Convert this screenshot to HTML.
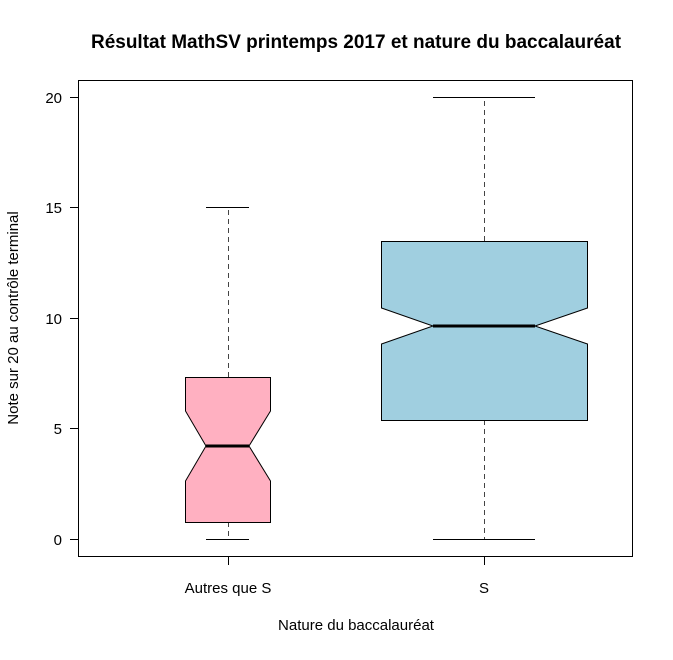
<!DOCTYPE html><html><head><style>body{margin:0;background:#fff}</style></head><body>
<svg width="673" height="655" xmlns="http://www.w3.org/2000/svg" font-family="Liberation Sans, Arial, sans-serif">
<rect width="673" height="655" fill="#fff"/>
<text x="356" y="48" font-size="19" font-weight="bold" text-anchor="middle">Résultat MathSV printemps 2017 et nature du baccalauréat</text>
<rect x="78.5" y="80.5" width="554" height="476" fill="none" stroke="#000"/>
<g stroke="#000" fill="none">
<line x1="70" y1="539.5" x2="78" y2="539.5"/><line x1="70" y1="428.5" x2="78" y2="428.5"/><line x1="70" y1="318.5" x2="78" y2="318.5"/><line x1="70" y1="207.5" x2="78" y2="207.5"/><line x1="70" y1="97.5" x2="78" y2="97.5"/>
<line x1="228.5" y1="557" x2="228.5" y2="565"/><line x1="484.5" y1="557" x2="484.5" y2="565"/>
</g>
<g font-size="15" text-anchor="end">
<text x="62" y="545">0</text><text x="62" y="434">5</text><text x="62" y="324">10</text><text x="62" y="213">15</text><text x="62" y="103">20</text>
</g>
<g font-size="15" text-anchor="middle">
<text x="228" y="593">Autres que S</text><text x="484" y="593">S</text>
<text x="356" y="630">Nature du baccalauréat</text>
<text transform="translate(18,318) rotate(-90)">Note sur 20 au contrôle terminal</text>
</g>
<g stroke="#000" fill="none">
<line x1="228.5" y1="377" x2="228.5" y2="207.5" stroke-dasharray="5,4" stroke="#444"/>
<line x1="228.5" y1="522" x2="228.5" y2="539.5" stroke-dasharray="5,4" stroke="#444"/>
<line x1="206" y1="207.5" x2="249" y2="207.5"/><line x1="206" y1="539.5" x2="249" y2="539.5"/>
<line x1="484.5" y1="241" x2="484.5" y2="97.5" stroke-dasharray="5,4" stroke="#444"/>
<line x1="484.5" y1="420" x2="484.5" y2="539.5" stroke-dasharray="5,4" stroke="#444"/>
<line x1="433" y1="97.5" x2="535" y2="97.5"/><line x1="433" y1="539.5" x2="535" y2="539.5"/>
</g>
<polygon points="185.5,377.5 270.5,377.5 270.5,411 249,446 270.5,481 270.5,522.5 185.5,522.5 185.5,481 206,446 185.5,411" fill="#ffb0c1" stroke="#000"/>
<line x1="206" y1="446" x2="249" y2="446" stroke="#000" stroke-width="3"/>
<polygon points="381.5,241.5 587.5,241.5 587.5,308 535,326 587.5,344 587.5,420.5 381.5,420.5 381.5,344 433,326 381.5,308" fill="#a0cfe0" stroke="#000"/>
<line x1="433" y1="326" x2="535" y2="326" stroke="#000" stroke-width="3"/>
</svg></body></html>
